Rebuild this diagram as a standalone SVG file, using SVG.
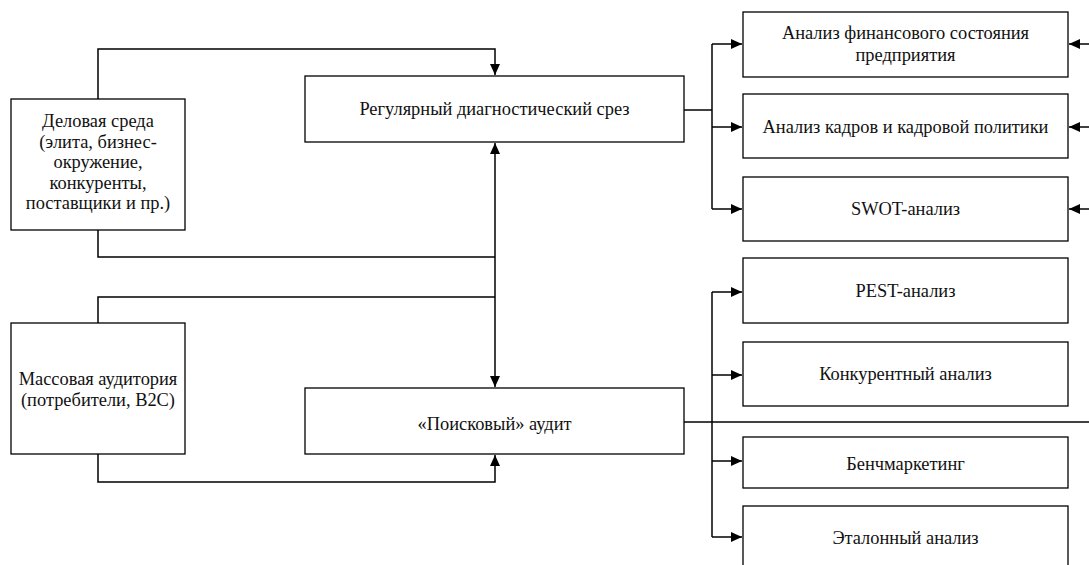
<svg xmlns="http://www.w3.org/2000/svg" width="1089" height="565" viewBox="0 0 1089 565">
<style>
.box{fill:#fff;stroke:#000;stroke-width:1.3}
.t{font-family:'Liberation Serif','Times New Roman',Times,serif;font-size:18.4px;fill:#111;text-anchor:middle}
.c{fill:none;stroke:#000;stroke-width:1.5}
</style>
<defs>
<marker id="ah" markerUnits="userSpaceOnUse" markerWidth="12" markerHeight="10" refX="11" refY="5" orient="auto">
<path d="M0,0 L11,5 L0,10 Z" fill="#000"/>
</marker>
</defs>
<rect width="1089" height="565" fill="#fff"/>
<g id="connectors">
<path class="c" d="M98,99 V49 H495 V75" marker-end="url(#ah)"/>
<path class="c" d="M98,230 V257 H495"/>
<path class="c" d="M98,323 V297 H495"/>
<path class="c" d="M495,257 V143" marker-end="url(#ah)"/>
<path class="c" d="M495,257 V387" marker-end="url(#ah)"/>
<path class="c" d="M98,454 V482 H495 V455" marker-end="url(#ah)"/>
<path class="c" d="M684,110 H712"/>
<path class="c" d="M712,44 V209"/>
<path class="c" d="M712,44 H742" marker-end="url(#ah)"/>
<path class="c" d="M712,127 H742" marker-end="url(#ah)"/>
<path class="c" d="M712,209 H742" marker-end="url(#ah)"/>
<path class="c" d="M1089,44 H1069" marker-end="url(#ah)"/>
<path class="c" d="M1089,127 H1069" marker-end="url(#ah)"/>
<path class="c" d="M1089,209 H1069" marker-end="url(#ah)"/>
<path class="c" d="M684,422 H1089"/>
<path class="c" d="M712,292 V537"/>
<path class="c" d="M712,292 H742" marker-end="url(#ah)"/>
<path class="c" d="M712,375 H742" marker-end="url(#ah)"/>
<path class="c" d="M712,461 H742" marker-end="url(#ah)"/>
<path class="c" d="M712,537 H742" marker-end="url(#ah)"/>
</g>
<g id="delovaya">
<rect class="box" x="11" y="99" width="174" height="131"/>
<text class="t" x="98" y="127">Деловая среда</text>
<text class="t" x="98" y="147.5">(элита, бизнес-</text>
<text class="t" x="98" y="168">окружение,</text>
<text class="t" x="98" y="188.5">конкуренты,</text>
<text class="t" x="98" y="209">поставщики и пр.)</text>
</g>
<g id="massovaya">
<rect class="box" x="11" y="323" width="174" height="131"/>
<text class="t" x="98" y="385">Массовая аудитория</text>
<text class="t" x="98" y="405.5">(потребители, B2C)</text>
</g>
<g id="regular">
<rect class="box" x="305" y="76" width="379" height="66"/>
<text class="t" x="494.5" y="115">Регулярный диагностический срез</text>
</g>
<g id="poisk">
<rect class="box" x="305" y="388" width="379" height="66"/>
<text class="t" x="494.5" y="430">«Поисковый» аудит</text>
</g>
<g id="fin">
<rect class="box" x="743" y="12" width="325" height="65"/>
<text class="t" x="905.5" y="39">Анализ финансового состояния</text>
<text class="t" x="905.5" y="61">предприятия</text>
</g>
<g id="kadry">
<rect class="box" x="743" y="94" width="325" height="64"/>
<text class="t" x="905.5" y="133">Анализ кадров и кадровой политики</text>
</g>
<g id="swot">
<rect class="box" x="743" y="177" width="325" height="64"/>
<text class="t" x="905.5" y="215">SWOT-анализ</text>
</g>
<g id="pest">
<rect class="box" x="743" y="258" width="325" height="65"/>
<text class="t" x="905.5" y="297">PEST-анализ</text>
</g>
<g id="konk">
<rect class="box" x="743" y="342" width="325" height="64"/>
<text class="t" x="905.5" y="380">Конкурентный анализ</text>
</g>
<g id="bench">
<rect class="box" x="743" y="437" width="325" height="51"/>
<text class="t" x="905.5" y="469.5">Бенчмаркетинг</text>
</g>
<g id="etalon">
<rect class="box" x="743" y="506" width="325" height="70"/>
<text class="t" x="905.5" y="543.5">Эталонный анализ</text>
</g>
</svg>
